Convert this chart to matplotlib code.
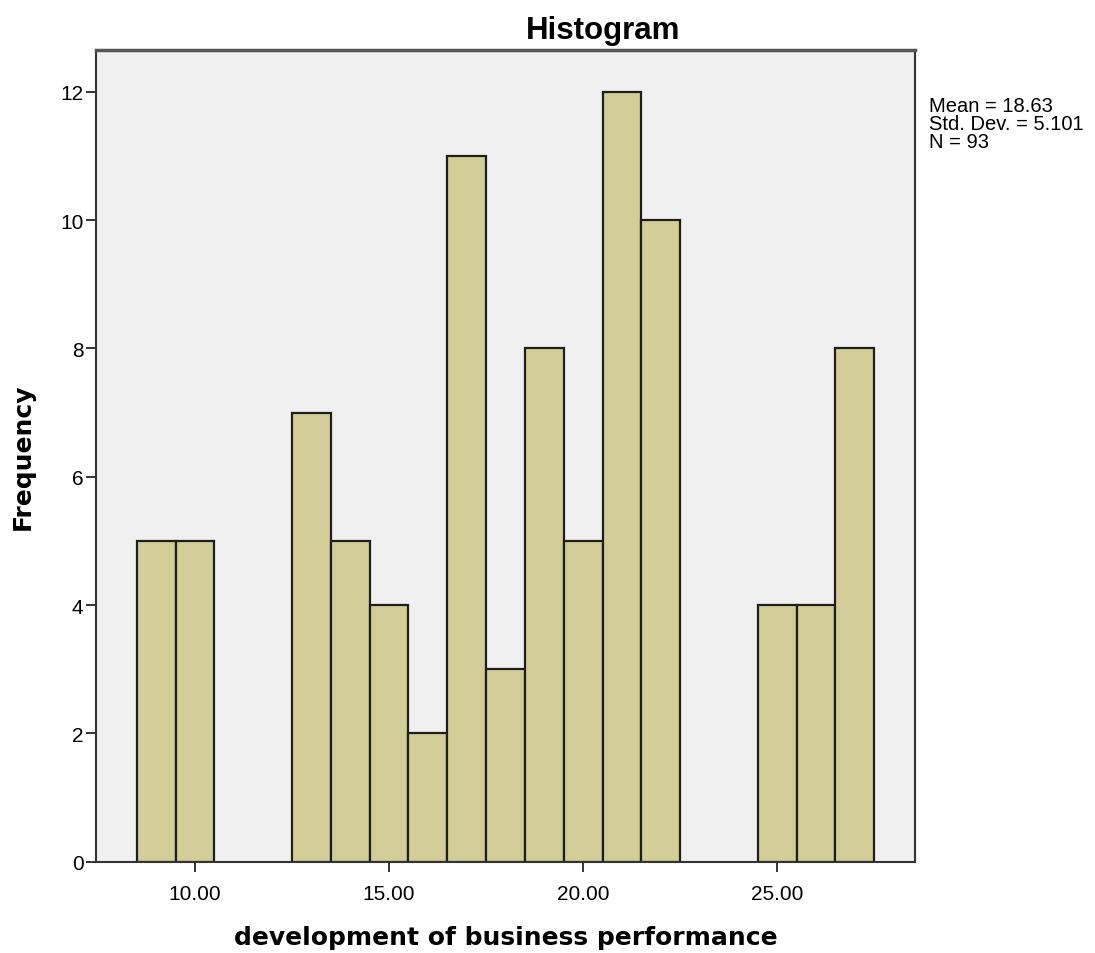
import numpy as np
import matplotlib.pyplot as plt

# histogram data (bin centres and counts), bin width 1
bin_centers = [9, 10, 11, 12, 13, 14, 15, 16, 17, 18, 19, 20, 21, 22, 23, 24, 25, 26, 27]
counts = [5, 5, 0, 0, 7, 5, 4, 2, 11, 3, 8, 5, 12, 10, 0, 0, 4, 4, 8]
x_ticks = [10, 15, 20, 25]
x_tick_labels = ["10.00", "15.00", "20.00", "25.00"]
y_ticks = [0, 2, 4, 6, 8, 10, 12]
stats_lines = ["Mean = 18.63", "Std. Dev. = 5.101", "N = 93"]

plt.rcParams["font.family"] = ["Liberation Sans", "DejaVu Sans"]

fig = plt.figure(figsize=(10.95, 9.54), dpi=100)
ax = fig.add_axes([0.0877, 0.0957, 0.7479, 0.8508])
ax.set_facecolor("#f0f0f0")

heights = np.array(counts)
centers = np.array(bin_centers)
mask = heights > 0
ax.bar(centers[mask], heights[mask], width=1.0, align="center",
       color="#d3ce97", edgecolor="#1e1e1e", linewidth=1.6, zorder=2)

ax.set_xlim(7.45, 28.55)
ax.set_ylim(0, 12.65)
ax.set_xticks(x_ticks)
ax.set_xticklabels(x_tick_labels)
ax.set_yticks(y_ticks)
ax.tick_params(axis="both", labelsize=15, length=7, width=1.3, color="#222222")
ax.tick_params(axis="x", pad=9)
ax.tick_params(axis="y", pad=2)

for side in ["left", "bottom", "top", "right"]:
    ax.spines[side].set_linewidth(1.5)
    ax.spines[side].set_color("#333333")
ax.spines["top"].set_color("#555555")
ax.spines["top"].set_linewidth(2.5)

# SPSS centres the title over the plot plus the stats area
ax.set_title("Histogram", fontsize=22.5, fontweight="bold", pad=9, x=0.619)
ax.set_xlabel("development of business performance", fontsize=18,
              fontweight="bold", family="DejaVu Sans", labelpad=16)
ax.set_ylabel("Frequency", fontsize=18, fontweight="bold",
              family="DejaVu Sans", labelpad=18)

fig.text(0.848, 0.8985, "\n".join(stats_lines), fontsize=14.5,
         va="top", ha="left", linespacing=0.95)

fig.savefig("out.png", dpi=100)
